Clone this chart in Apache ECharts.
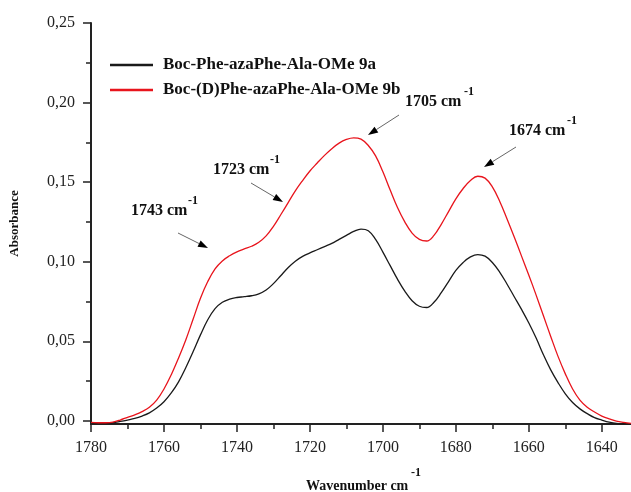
<!DOCTYPE html>
<html>
<head>
<meta charset="utf-8">
<script src="https://cdn.jsdelivr.net/npm/echarts@6/dist/echarts.min.js"></script>
<style>
html,body{margin:0;padding:0;background:#fff;}
#chart{width:631px;height:492px;}
</style>
</head>
<body>
<div id="chart"></div>
<script>
var wavenumbers = [1780,1778,1776,1774,1772,1770,1768,1766,1764,1762,1760,1758,1756,1754,1752,1750,1748,1746,1744,1742,1740,1738,1736,1734,1732,1730,1728,1726,1724,1722,1720,1718,1716,1714,1712,1710,1708,1706,1704,1702,1700,1698,1696,1694,1692,1690,1688,1686,1684,1682,1680,1678,1676,1674,1672,1670,1668,1666,1664,1662,1660,1658,1656,1654,1652,1650,1648,1646,1644,1642,1640,1638,1636,1634,1632];

var abs9a = [-0.0015,-0.0016,-0.0016,-0.0012,-0.0004,0.0005,0.0015,0.003,0.005,0.008,0.012,0.0175,0.0245,0.0335,0.0435,0.054,0.0635,0.0705,0.0745,0.0765,0.0775,0.078,0.0786,0.0798,0.0822,0.0862,0.0912,0.0962,0.1003,0.1033,0.1055,0.1075,0.1095,0.1115,0.114,0.1165,0.119,0.1205,0.1195,0.114,0.106,0.0975,0.089,0.0815,0.0755,0.072,0.0712,0.0745,0.0805,0.0875,0.0945,0.0995,0.103,0.1045,0.1035,0.0995,0.0935,0.086,0.078,0.07,0.0615,0.052,0.0415,0.032,0.024,0.017,0.0115,0.0075,0.0045,0.002,0.0005,-0.0008,-0.0016,-0.0018,-0.0019];

var abs9b = [-0.001,-0.0012,-0.0012,-0.0008,0.0005,0.0022,0.0038,0.0058,0.0085,0.013,0.020,0.029,0.0395,0.051,0.064,0.077,0.0875,0.0955,0.1005,0.1037,0.1062,0.108,0.1097,0.1122,0.1162,0.1222,0.1295,0.137,0.1445,0.151,0.157,0.162,0.1668,0.171,0.1745,0.1768,0.1778,0.177,0.173,0.1665,0.1565,0.145,0.134,0.125,0.118,0.114,0.113,0.1165,0.1235,0.1315,0.1395,0.146,0.151,0.1537,0.1525,0.147,0.138,0.127,0.1155,0.1035,0.0915,0.079,0.066,0.053,0.0405,0.0295,0.020,0.013,0.0085,0.0055,0.003,0.0012,-0.0002,-0.001,-0.0016];

var seriesNames = ['Boc-Phe-azaPhe-Ala-OMe 9a', 'Boc-(D)Phe-azaPhe-Ala-OMe 9b'];
var xMajorTicks = [1780,1760,1740,1720,1700,1680,1660,1640];
var xMinorTicks = [1770,1750,1730,1710,1690,1670,1650];
var yMajorTicks = [0,0.05,0.10,0.15,0.20,0.25];
var yMinorTicks = [0.025,0.075,0.125,0.175,0.225];
var peakLabels = ['1743 cm','1723 cm','1705 cm','1674 cm'];
var xTitle = 'Wavenumber cm';
var yTitle = 'Absorbance';
var supText = '-1';

var FONT = '"Liberation Serif", "Times New Roman", serif';
var AXIS_COLOR = '#222';

function pairs(xs, ys){ return xs.map(function(x,i){ return [x, ys[i]]; }); }

function txt(s, x, y, size, align){
  return {type:'text', x:x, y:y, silent:true,
    style:{text:s, fontFamily:FONT, fontSize:size, fontWeight:'bold', fill:'#111', align:align||'left', verticalAlign:'middle'}};
}
function arrow(x1,y1,x2,y2){
  var dx=x2-x1, dy=y2-y1, L=Math.sqrt(dx*dx+dy*dy), ux=dx/L, uy=dy/L;
  var hl=10, hw=3.5;
  var bx=x2-ux*hl, by=y2-uy*hl;
  return [
    {type:'line', silent:true, shape:{x1:x1,y1:y1,x2:bx,y2:by}, style:{stroke:'#666', lineWidth:1}},
    {type:'polygon', silent:true, shape:{points:[[x2,y2],[bx-uy*hw,by+ux*hw],[bx+uy*hw,by-ux*hw]]}, style:{fill:'#000'}}
  ];
}

var graphics = [];
var ann = [
  {t:0, tx:131, ty:211, sx:188, sy:201, a:[178,233,208,248]},
  {t:1, tx:213, ty:170, sx:270, sy:160, a:[251,183,283,202]},
  {t:2, tx:405, ty:102, sx:464, sy:92, a:[399,115,368,135]},
  {t:3, tx:509, ty:131, sx:567, sy:121, a:[516,147,484,167]}
];
ann.forEach(function(d){
  graphics.push(txt(peakLabels[d.t], d.tx, d.ty, 16));
  graphics.push(txt(supText, d.sx, d.sy, 12));
  graphics = graphics.concat(arrow(d.a[0],d.a[1],d.a[2],d.a[3]));
});
graphics.push(txt(xTitle, 306, 486, 14));
graphics.push(txt(supText, 411, 473, 12));

var chart = echarts.init(document.getElementById('chart'), null, {renderer:'canvas'});
chart.setOption({
  animation:false,
  backgroundColor:'#fff',
  grid:{left:89, right:0, top:23, bottom:68, containLabel:false},
  legend:{
    data:seriesNames, orient:'vertical', left:105, top:51, itemGap:7,
    icon:'rect', itemWidth:43, itemHeight:2.5,
    textStyle:{fontFamily:FONT, fontSize:17, fontWeight:'bold', color:'#111', lineHeight:18, padding:[0,0,0,5]}
  },
  xAxis:[{
    type:'value', min:1632, max:1780, inverse:true, position:'bottom',
    axisLine:{show:true, onZero:false, lineStyle:{color:AXIS_COLOR, width:2}},
    axisTick:{show:true, customValues:xMajorTicks, length:8, lineStyle:{color:AXIS_COLOR, width:1.5}},
    axisLabel:{show:true, customValues:xMajorTicks, fontFamily:FONT, fontSize:16, color:'#222', margin:16,
      formatter:function(v){ return String(v); }},
    splitLine:{show:false}
  },{
    type:'value', min:1632, max:1780, inverse:true, position:'bottom',
    axisLine:{show:false, onZero:false},
    axisTick:{show:true, customValues:xMinorTicks, length:5, lineStyle:{color:AXIS_COLOR, width:1.5}},
    axisLabel:{show:false},
    splitLine:{show:false}
  }],
  yAxis:[{
    type:'value', min:-0.002, max:0.25, position:'left',
    name:yTitle, nameLocation:'middle', nameGap:70, nameRotate:90,
    nameTextStyle:{fontFamily:FONT, fontSize:13, fontWeight:'bold', color:'#111'},
    axisLine:{show:true, onZero:false, lineStyle:{color:AXIS_COLOR, width:2}},
    axisTick:{show:true, customValues:yMajorTicks, length:8, lineStyle:{color:AXIS_COLOR, width:1.5}},
    axisLabel:{show:true, customValues:yMajorTicks, fontFamily:FONT, fontSize:16, color:'#222', margin:16,
      formatter:function(v){ return v.toFixed(2).replace('.', ','); }},
    splitLine:{show:false}
  },{
    type:'value', min:-0.002, max:0.25, position:'left',
    axisLine:{show:false, onZero:false},
    axisTick:{show:true, customValues:yMinorTicks, length:5, lineStyle:{color:AXIS_COLOR, width:1.5}},
    axisLabel:{show:false},
    splitLine:{show:false}
  }],
  series:[{
    name:seriesNames[0], type:'line', data:pairs(wavenumbers, abs9a), smooth:0.4,
    showSymbol:false, lineStyle:{color:'#1a1a1a', width:1.3}, itemStyle:{color:'#1a1a1a'}
  },{
    name:seriesNames[1], type:'line', data:pairs(wavenumbers, abs9b), smooth:0.4,
    showSymbol:false, lineStyle:{color:'#e8141c', width:1.3}, itemStyle:{color:'#e8141c'}
  }],
  graphic:graphics
});
</script>
</body>
</html>
